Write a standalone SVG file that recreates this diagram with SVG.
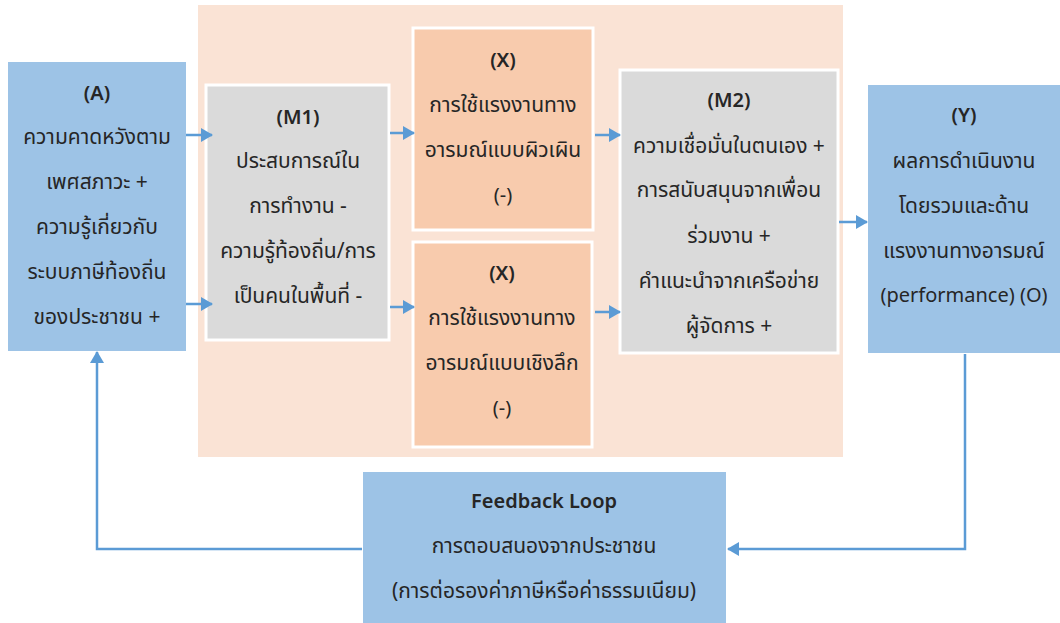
<svg xmlns="http://www.w3.org/2000/svg" width="1060" height="623" viewBox="0 0 1060 623">
<defs>
<style>
.blue{fill:#9dc3e6}
.gray{fill:#dadada;stroke:#ffffff;stroke-width:3}
.peach{fill:#f8cbad;stroke:#ffffff;stroke-width:3}
.panel{fill:#fae3d5}
text{font-family:"Noto Sans","Noto Sans Thai","DejaVu Sans",sans-serif;font-size:21px;fill:#262626;text-anchor:middle}
.t{font-weight:600;font-size:20px}
.l{font-size:20px}
.c{fill:none;stroke:#5b9bd5;stroke-width:2.5}
</style>
<marker id="ah" markerUnits="userSpaceOnUse" markerWidth="12" markerHeight="14" refX="11" refY="7" orient="auto">
<path d="M0,0 L12,7 L0,14 Z" fill="#5b9bd5"/>
</marker>
</defs>
<rect class="panel" x="198" y="5" width="645" height="452"/>
<g id="nodeA">
<rect class="blue" x="8" y="62" width="178" height="289"/>
<text x="97" y="100" class="t">(A)</text>
<text x="97" y="144">ความคาดหวังตาม</text>
<text x="97" y="189">เพศสภาวะ +</text>
<text x="97" y="234">ความรู้เกี่ยวกับ</text>
<text x="97" y="279">ระบบภาษีท้องถิ่น</text>
<text x="97" y="324">ของประชาชน +</text>
</g>
<g id="nodeM1">
<rect class="gray" x="206" y="85" width="183" height="255"/>
<text x="298" y="124" class="t">(M1)</text>
<text x="298" y="168">ประสบการณ์ใน</text>
<text x="298" y="213">การทำงาน -</text>
<text x="298" y="258">ความรู้ท้องถิ่น/การ</text>
<text x="298" y="303">เป็นคนในพื้นที่ -</text>
</g>
<g id="nodeX1">
<rect class="peach" x="413" y="28" width="180" height="202"/>
<text x="503" y="67" class="t">(X)</text>
<text x="503" y="112">การใช้แรงงานทาง</text>
<text x="503" y="157">อารมณ์แบบผิวเผิน</text>
<text x="503" y="202" class="l">(-)</text>
</g>
<g id="nodeX2">
<rect class="peach" x="413" y="242" width="179" height="205"/>
<text x="502" y="280" class="t">(X)</text>
<text x="502" y="325">การใช้แรงงานทาง</text>
<text x="502" y="370">อารมณ์แบบเชิงลึก</text>
<text x="502" y="415" class="l">(-)</text>
</g>
<g id="nodeM2">
<rect class="gray" x="620" y="70" width="218" height="283"/>
<text x="729" y="107" class="t">(M2)</text>
<text x="729" y="153">ความเชื่อมั่นในตนเอง +</text>
<text x="729" y="197">การสนับสนุนจากเพื่อน</text>
<text x="729" y="243">ร่วมงาน +</text>
<text x="729" y="288">คำแนะนำจากเครือข่าย</text>
<text x="729" y="333">ผู้จัดการ +</text>
</g>
<g id="nodeY">
<rect class="blue" x="868" y="85" width="192" height="268"/>
<text x="964" y="122" class="t">(Y)</text>
<text x="964" y="168">ผลการดำเนินงาน</text>
<text x="964" y="213">โดยรวมและด้าน</text>
<text x="964" y="258">แรงงานทางอารมณ์</text>
<text x="964" y="302" class="l">(performance) (O)</text>
</g>
<g id="nodeFeedback">
<rect class="blue" x="363" y="472" width="363" height="151"/>
<text x="544" y="508" class="t">Feedback Loop</text>
<text x="544" y="553">การตอบสนองจากประชาชน</text>
<text x="544" y="598">(การต่อรองค่าภาษีหรือค่าธรรมเนียม)</text>
</g>
<g id="connectors">
<line class="c" x1="186" y1="135" x2="212" y2="135" marker-end="url(#ah)"/>
<line class="c" x1="186" y1="304" x2="212" y2="304" marker-end="url(#ah)"/>
<line class="c" x1="390" y1="133" x2="414" y2="133" marker-end="url(#ah)"/>
<line class="c" x1="390" y1="307" x2="414" y2="307" marker-end="url(#ah)"/>
<line class="c" x1="595" y1="135" x2="620" y2="135" marker-end="url(#ah)"/>
<line class="c" x1="595" y1="312" x2="620" y2="312" marker-end="url(#ah)"/>
<line class="c" x1="839" y1="222" x2="867" y2="222" marker-end="url(#ah)"/>
<polyline class="c" points="965,354 965,549 728,549" marker-end="url(#ah)"/>
<polyline class="c" points="362,549 97,549 97,352" marker-end="url(#ah)"/>
</g>
</svg>
